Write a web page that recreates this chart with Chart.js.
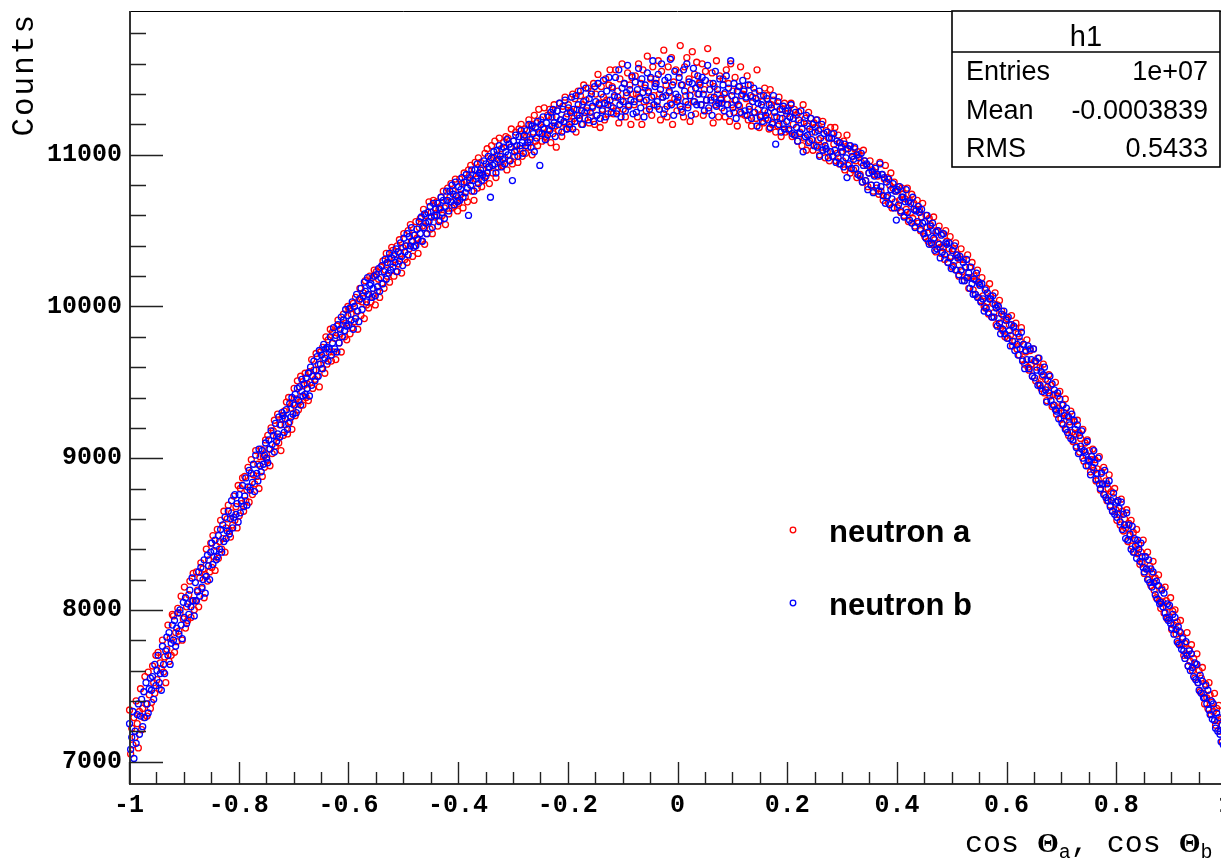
<!DOCTYPE html>
<html>
<head>
<meta charset="utf-8">
<script src="https://cdn.jsdelivr.net/npm/chart.js@4.4.1/dist/chart.umd.min.js"></script>
<style>
html,body{margin:0;padding:0;background:#fff;overflow:hidden;width:1221px;height:859px}
#c{position:absolute;left:0;top:0}
</style>
</head>
<body>
<canvas id="c" width="1240" height="859"></canvas>
<script>
// ---- histogram definition ----
const xMin = -1, xMax = 1, nBins = 1000;
const yMin = 6852, yMax = 11948;
const xTickValues = [-1, -0.8, -0.6, -0.4, -0.2, 0, 0.2, 0.4, 0.6, 0.8, 1];
const xTickLabels = ['-1', '-0.8', '-0.6', '-0.4', '-0.2', '0', '0.2', '0.4', '0.6', '0.8', '1'];
const yTickValues = [7000, 8000, 9000, 10000, 11000];
const yTickLabels = ['7000', '8000', '9000', '10000', '11000'];
const xMinorStep = 0.05, yMinorStep = 200;
const seriesNames = ['neutron a', 'neutron b'];
const statsTitle = 'h1';
const statsLabels = ['Entries', 'Mean', 'RMS'];
const statsValues = ['1e+07', '-0.0003839', '0.5433'];
const yTitle = 'Counts';

// bin contents, 1000 bins from -1 to 1 (20 bins per row)
const neutronA = [
7340,7050,7220,7110,7290,7160,7400,7250,7090,7330,7480,7210,7350,7290,7560,7380,7300,7590,7440,7350,
7390,7630,7520,7450,7700,7540,7720,7480,7650,7610,7800,7590,7690,7520,7740,7900,7660,7810,7700,7970,
7960,7720,7850,7790,8010,7860,7980,8090,7800,7940,8150,7880,8020,7930,8100,8190,7950,8060,8240,8000,
8060,8250,8130,8020,8210,8310,8140,8270,8080,8230,8400,8190,8330,8250,8440,8280,8490,8350,8260,8420,
8530,8340,8450,8590,8400,8470,8650,8380,8540,8600,8690,8520,8480,8640,8560,8750,8590,8680,8540,8820,
8620,8800,8700,8870,8650,8880,8720,8790,8940,8710,8810,8990,8760,8890,8830,9050,8880,8960,8800,9010,
9060,8880,9010,8940,9120,8990,9150,9060,8950,9200,9030,9180,9250,9080,9140,9290,9100,9220,9050,9260,
9150,9310,9220,9370,9160,9400,9240,9330,9190,9360,9460,9280,9390,9510,9320,9370,9540,9440,9350,9480,
9560,9400,9490,9380,9570,9500,9650,9460,9580,9520,9690,9540,9620,9470,9700,9590,9730,9650,9560,9800,
9620,9780,9700,9850,9640,9830,9700,9790,9650,9870,9910,9760,9820,9700,9880,9950,9800,9890,9780,10000,
9980,9820,9950,9860,10020,9900,10060,9970,9850,10040,10120,9940,10030,10090,9920,10170,10010,10080,9990,10200,
10030,10190,10080,10240,10010,10230,10100,10180,10060,10260,10150,10300,10120,10240,10350,10200,10320,10160,10280,10390,
10370,10200,10310,10230,10400,10280,10440,10350,10220,10390,10480,10310,10400,10290,10500,10380,10540,10430,10330,10470,
10400,10560,10450,10350,10520,10580,10430,10530,10640,10410,10600,10480,10560,10690,10510,10620,10480,10700,10590,10650,
10690,10530,10640,10570,10720,10600,10760,10650,10540,10700,10780,10610,10720,10810,10650,10760,10660,10840,10700,10630,
10680,10840,10740,10810,10650,10880,10720,10820,10690,10900,10830,10930,10760,10870,10700,10950,10840,10780,10980,10880,
10950,10790,10900,10830,11010,10860,11040,10920,10810,10970,11060,10880,10980,11090,10850,11000,10920,11110,10950,11040,
10930,11080,10980,11120,10900,11110,10960,11050,11170,10940,11090,10990,11150,11030,10950,11170,11040,11200,10990,11120,
11170,11010,11120,11050,11230,11080,11200,11000,11150,11260,11090,11210,11060,11300,11140,11230,11090,11180,11310,11120,
11110,11260,11170,11300,11080,11250,11140,11330,11190,11050,11290,11160,11340,11230,11120,11320,11210,11380,11170,11270,
11330,11180,11290,11220,11400,11240,11370,11150,11300,11420,11260,11390,11200,11330,11460,11240,11360,11290,11440,11210,
11250,11420,11310,11470,11200,11400,11260,11530,11340,11180,11450,11300,11380,11230,11500,11360,11270,11460,11560,11320,
11450,11270,11380,11560,11290,11420,11210,11500,11360,11600,11300,11470,11250,11390,11540,11330,11460,11200,11510,11400,
11330,11520,11400,11250,11600,11380,11470,11200,11560,11350,11440,11290,11650,11410,11320,11500,11260,11580,11390,11470,
11500,11320,11620,11400,11230,11550,11380,11690,11300,11460,11250,11580,11410,11340,11640,11200,11480,11370,11560,11290,
11360,11540,11720,11300,11460,11250,11580,11390,11640,11330,11500,11220,11430,11680,11350,11530,11270,11610,11400,11470,
11480,11330,11600,11260,11430,11550,11360,11700,11290,11470,11380,11540,11210,11450,11330,11620,11400,11250,11520,11360,
11310,11500,11400,11250,11560,11370,11470,11220,11600,11330,11420,11280,11510,11360,11190,11450,11320,11580,11270,11400,
11430,11260,11370,11520,11230,11320,11460,11190,11380,11280,11410,11240,11560,11300,11180,11390,11260,11350,11210,11440,
11240,11390,11280,11170,11430,11330,11200,11360,11250,11150,11320,11190,11380,11240,11120,11300,11200,11340,11150,11270,
11310,11160,11250,11340,11120,11200,11300,11130,11260,11090,11280,11150,11210,11060,11330,11110,11240,11030,11190,11280,
11090,11240,11150,11030,11210,11180,11060,11230,11100,11000,11170,11050,11220,11090,10980,11160,11020,11110,10960,11180,
11140,10990,11070,11180,10960,11010,11130,10940,11080,11020,10960,11090,10900,11040,11130,10930,11060,10880,11020,10990,
10900,11040,10960,10850,11020,11000,10870,10950,10820,11030,10960,10830,10930,10790,10880,10960,10800,10900,10760,10870,
10920,10780,10860,10740,10950,10760,10870,10700,10840,10930,10720,10850,10680,10800,10880,10650,10780,10820,10690,10760,
10650,10790,10700,10620,10780,10740,10600,10710,10640,10780,10560,10700,10620,10740,10580,10680,10530,10640,10700,10550,
10640,10500,10590,10680,10480,10460,10600,10520,10430,10580,10540,10410,10500,10590,10440,10360,10500,10420,10530,10390,
10350,10480,10390,10310,10500,10430,10290,10380,10460,10330,10260,10380,10300,10420,10240,10340,10200,10310,10380,10230,
10310,10170,10260,10190,10340,10120,10260,10190,10290,10110,10200,10080,10170,10240,10060,10150,10040,10190,10070,10000,
9990,10120,10030,9950,10150,10070,9930,10020,9960,10090,9880,10010,9920,10040,9860,9970,9840,9940,9800,9910,
9920,9790,9880,9810,9940,9740,9860,9770,9890,9720,9820,9680,9770,9860,9650,9750,9620,9700,9780,9600,
9580,9710,9620,9540,9720,9640,9510,9600,9660,9490,9600,9460,9540,9620,9430,9520,9380,9470,9550,9410,
9480,9340,9420,9350,9500,9290,9410,9330,9440,9260,9350,9220,9300,9390,9190,9280,9150,9240,9310,9170,
9110,9240,9160,9080,9250,9170,9040,9130,9060,9190,8980,9100,9020,9120,8950,9050,8910,8990,9060,8920,
8990,8850,8930,8860,9010,8790,8910,8830,8940,8760,8850,8720,8800,8890,8690,8780,8650,8740,8800,8660,
8590,8720,8630,8560,8730,8650,8520,8600,8540,8660,8450,8570,8490,8590,8420,8510,8380,8460,8530,8370,
8430,8300,8380,8310,8460,8240,8350,8270,8380,8200,8290,8160,8240,8320,8130,8210,8080,8160,8230,8060,
8010,8140,8050,7980,8150,8060,7940,8020,7950,8080,7870,7990,7900,8000,7840,7920,7780,7860,7930,7770,
7820,7700,7780,7710,7850,7630,7740,7660,7770,7600,7680,7550,7640,7710,7520,7600,7460,7550,7620,7450,
7380,7510,7420,7350,7520,7440,7310,7390,7330,7450,7240,7350,7270,7370,7200,7280,7130,7210,7290,7140
];
const neutronB = [
7250,7080,7160,7330,7020,7200,7120,7310,7380,7180,7300,7410,7230,7460,7290,7520,7380,7320,7480,7550,
7470,7560,7410,7640,7500,7600,7700,7520,7580,7470,7760,7640,7580,7730,7820,7700,7850,7640,7780,7900,
7800,7930,7760,7880,7980,7840,8000,7900,7810,8050,7950,8080,7910,8040,7970,8130,8020,8210,8060,7960,
8180,8060,8120,8250,8090,8280,8150,8200,8330,8110,8220,8360,8290,8200,8380,8440,8300,8390,8460,8330,
8350,8490,8400,8530,8380,8560,8450,8610,8470,8520,8650,8500,8600,8720,8540,8610,8760,8630,8700,8580,
8760,8640,8720,8820,8680,8750,8870,8690,8810,8920,8790,8900,8840,8960,8780,9020,8900,8850,9060,8950,
8910,9050,8960,9020,9100,9000,8970,9120,9060,9180,9090,9150,9040,9230,9110,9160,9270,9140,9220,9300,
9280,9170,9260,9320,9190,9230,9360,9270,9400,9290,9350,9420,9300,9460,9380,9470,9350,9520,9410,9490,
9420,9530,9460,9560,9410,9600,9480,9540,9640,9510,9580,9670,9540,9710,9620,9680,9590,9750,9660,9720,
9730,9640,9720,9800,9680,9760,9860,9720,9810,9700,9880,9760,9850,9930,9800,9910,9840,9980,9870,9940,
9880,9990,9910,10030,9850,10000,9920,10080,9970,9900,10050,10120,9980,10070,10160,10100,10030,10190,10080,10140,
10150,10060,10120,10200,10070,10210,10130,10250,10100,10190,10270,10150,10230,10310,10180,10290,10220,10350,10240,10320,
10260,10340,10290,10380,10230,10360,10300,10420,10330,10270,10450,10360,10400,10480,10340,10460,10400,10520,10430,10390,
10470,10400,10510,10440,10560,10480,10590,10430,10520,10610,10550,10480,10620,10560,10660,10590,10520,10680,10600,10640,
10600,10680,10560,10650,10720,10620,10700,10580,10660,10760,10700,10630,10760,10690,10800,10740,10670,10820,10730,10690,
10790,10700,10770,10850,10720,10820,10750,10870,10780,10600,10850,10800,10900,10830,10760,10900,10860,10940,10810,10880,
10900,10830,10870,10960,10850,10940,10880,10990,10920,10720,10980,10930,11020,10940,10880,11030,10970,11060,10990,10920,
10970,11050,10940,11020,11100,11000,11070,10960,11050,10830,11090,11020,11130,11060,10990,11120,11060,11160,11080,11010,
11130,11060,11160,11080,11200,11100,11050,11190,11140,11020,11180,11110,11220,11150,10930,11200,11140,11250,11170,11100,
11210,11130,11250,11160,11280,11190,11300,11210,11120,11250,11290,11200,11340,11230,11150,11300,11220,11360,11250,11170,
11310,11200,11280,11380,11170,11300,11220,11390,11260,11330,11240,11420,11290,11200,11350,11280,11440,11310,11230,11370,
11280,11400,11320,11220,11450,11350,11260,11470,11330,11240,11400,11290,11490,11340,11250,11420,11330,11510,11360,11280,
11440,11310,11390,11510,11270,11380,11560,11330,11250,11440,11350,11470,11290,11410,11590,11320,11430,11360,11520,11270,
11350,11480,11280,11430,11570,11370,11310,11500,11410,11250,11460,11360,11540,11420,11300,11510,11380,11620,11330,11450,
11470,11350,11530,11300,11430,11600,11380,11270,11490,11390,11320,11510,11420,11630,11330,11460,11260,11550,11400,11350,
11380,11510,11320,11460,11280,11560,11420,11350,11600,11310,11480,11390,11260,11470,11570,11350,11440,11330,11520,11400,
11460,11330,11510,11400,11290,11490,11360,11590,11310,11430,11360,11260,11470,11380,11550,11320,11430,11340,11500,11370,
11340,11460,11290,11410,11520,11330,11440,11270,11620,11390,11310,11470,11360,11240,11420,11330,11450,11280,11390,11490,
11420,11290,11380,11260,11460,11300,11390,11240,11350,11440,11280,11370,11190,11340,11420,11250,11330,11220,11390,11290,
11260,11370,11230,11330,11180,11310,11210,11390,11280,11070,11250,11350,11200,11300,11150,11240,11320,11170,11290,11220,
11290,11170,11250,11330,11140,11240,11130,11280,11180,11090,11230,11140,11290,11170,11020,11210,11120,11260,11130,11080,
11170,11240,11100,11200,11060,11150,11230,11050,11160,10990,11110,11200,11030,11140,11060,11040,11150,10980,11110,11020,
11110,10990,11140,11030,10950,11090,10980,11080,10940,11050,11020,10920,11070,10980,10850,11040,10940,11060,10910,10990,
10970,11050,10910,11000,10870,10980,10860,11010,10820,10930,10960,10830,10940,10770,10880,10920,10800,10890,10750,10860,
10910,10800,10870,10760,10940,10790,10870,10730,10850,10680,10820,10730,10840,10670,10770,10710,10810,10650,10760,10570,
10770,10670,10790,10630,10720,10720,10590,10690,10770,10620,10690,10570,10680,10550,10720,10640,10520,10630,10560,10660,
10620,10510,10640,10550,10480,10560,10450,10600,10490,10410,10530,10420,10550,10450,10370,10490,10380,10500,10410,10320,
10470,10360,10480,10340,10420,10410,10290,10420,10320,10250,10370,10270,10400,10240,10340,10320,10210,10330,10240,10170,
10290,10170,10260,10310,10190,10220,10120,10260,10150,10080,10180,10080,10220,10060,10160,10140,10030,10150,10050,9970,
10110,9990,10090,9960,10050,10050,9930,10070,9930,10010,9990,9870,10000,9890,9820,9950,9850,9970,9820,9910,
9790,9930,9840,9740,9880,9770,9870,9710,9830,9750,9680,9800,9720,9830,9640,9750,9590,9710,9650,9740,
9590,9720,9650,9540,9720,9530,9640,9580,9480,9660,9480,9570,9440,9550,9600,9450,9370,9510,9430,9540,
9380,9490,9350,9450,9320,9310,9430,9260,9390,9310,9230,9350,9280,9190,9330,9170,9270,9220,9130,9290,
9120,9250,9190,9070,9220,9030,9150,9080,9180,9000,9050,9040,8950,9110,8990,8980,8890,9010,8940,9050,
8970,8860,8900,9000,8830,8800,8900,8830,8760,8920,8740,8830,8720,8850,8680,8720,8650,8770,8630,8710,
8610,8720,8670,8580,8710,8530,8630,8560,8470,8640,8460,8560,8500,8400,8550,8380,8470,8420,8340,8460,
8400,8320,8440,8350,8280,8250,8350,8270,8200,8330,8180,8270,8150,8250,8180,8100,8190,8070,8160,8040,
8050,8130,8020,8110,7980,7950,8040,7930,8030,7910,7880,7970,7840,7950,7870,7790,7890,7770,7850,7740,
7810,7730,7680,7790,7700,7630,7730,7600,7710,7620,7560,7650,7540,7640,7520,7470,7570,7450,7530,7420,
7420,7500,7380,7470,7340,7310,7400,7280,7380,7270,7220,7320,7200,7290,7180,7130,7240,7110,7190,7080
];

const binWidth = (xMax - xMin) / nBins;
function toPoints(arr) {
  return arr.map((v, i) => ({ x: xMin + (i + 0.5) * binWidth, y: v }));
}

const MONO = "'Liberation Mono', 'DejaVu Sans Mono', monospace";
const SANS = "'Liberation Sans', Arial, sans-serif";
const SERIF = "'Liberation Serif', 'DejaVu Serif', serif";

// target plot frame (pixels)
const FRAME = { left: 129, top: 11, right: 1226, bottom: 784 };

const fixLayout = {
  id: 'fixLayout',
  afterRender(chart) {
    chart.$tries = chart.$tries || 0;
    if (chart.$tries >= 3) return;
    const a = chart.chartArea;
    const pad = chart.config.options.layout.padding;
    const dt = a.top - FRAME.top, db = FRAME.bottom - a.bottom;
    const dl = a.left - FRAME.left, dr = FRAME.right - a.right;
    if (Math.abs(dt) > 0.5 || Math.abs(db) > 0.5 || Math.abs(dl) > 0.5 || Math.abs(dr) > 0.5) {
      chart.$tries++;
      pad.top -= dt; pad.bottom -= db; pad.left -= dl; pad.right -= dr;
      chart.update();
    }
  }
};

const rootDecor = {
  id: 'rootDecor',
  afterDraw(chart) {
    const { ctx, chartArea: a, scales } = chart;
    const xs = scales.x, ys = scales.y;
    ctx.save();
    // frame (top + right)
    ctx.strokeStyle = '#000';
    ctx.lineWidth = 1;
    ctx.beginPath();
    ctx.moveTo(a.left, a.top + 0.5);
    ctx.lineTo(a.right, a.top + 0.5);
    ctx.lineTo(a.right, a.bottom);
    ctx.stroke();
    // axis lines
    ctx.strokeStyle = '#333';
    ctx.lineWidth = 2;
    ctx.beginPath();
    ctx.moveTo(a.left + 1, a.top);
    ctx.lineTo(a.left + 1, a.bottom);
    ctx.lineTo(a.right, a.bottom);
    ctx.stroke();
    // ticks
    ctx.lineWidth = 1.4;
    ctx.strokeStyle = '#222';
    ctx.beginPath();
    const nx = Math.round((xMax - xMin) / xMinorStep);
    for (let i = 0; i <= nx; i++) {
      const v = xMin + i * xMinorStep;
      const major = xTickValues.some(t => Math.abs(t - v) < 1e-9);
      const px = Math.round(xs.getPixelForValue(v)) + 0.5;
      ctx.moveTo(px, a.bottom);
      ctx.lineTo(px, a.bottom - (major ? 22 : 12));
    }
    const yStart = Math.ceil(yMin / yMinorStep) * yMinorStep;
    for (let v = yStart; v <= yMax; v += yMinorStep) {
      const major = yTickValues.includes(v);
      const py = Math.round(ys.getPixelForValue(v)) + 0.5;
      ctx.moveTo(a.left + 1, py);
      ctx.lineTo(a.left + 1 + (major ? 33 : 16), py);
    }
    ctx.stroke();

    // y title (rotated, aligned to top)
    ctx.save();
    ctx.translate(33, 13);
    ctx.rotate(-Math.PI / 2);
    ctx.fillStyle = '#000';
    ctx.font = '31px ' + MONO;
    ctx.letterSpacing = '2px';
    ctx.textAlign = 'right';
    ctx.textBaseline = 'alphabetic';
    ctx.fillText(yTitle, 0, 0);
    ctx.restore();

    // x title: cos Θa, cos Θb (right part runs past the window)
    const segs = [
      { t: 'cos ', f: '30px ' + MONO, dy: 0 },
      { t: '\u0398', f: 'bold 28px ' + SERIF, dy: 0 },
      { t: 'a', f: '20px ' + MONO, dy: 6 },
      { t: ', cos ', f: '30px ' + MONO, dy: 0 },
      { t: '\u0398', f: 'bold 28px ' + SERIF, dy: 0 },
      { t: 'b', f: '20px ' + MONO, dy: 6 }
    ];
    let tx = 965;
    const base = 852;
    ctx.fillStyle = '#000';
    ctx.textAlign = 'left';
    ctx.textBaseline = 'alphabetic';
    for (const s of segs) {
      ctx.font = s.f;
      ctx.fillText(s.t, tx, base + s.dy);
      tx += ctx.measureText(s.t).width;
    }

    // stats box
    const bx = 952, by = 11, bw = 268, bh = 156;
    ctx.fillStyle = '#fff';
    ctx.fillRect(bx, by, bw, bh);
    ctx.strokeStyle = '#000';
    ctx.lineWidth = 1.6;
    ctx.strokeRect(bx, by, bw, bh);
    ctx.beginPath();
    ctx.moveTo(bx, 52); ctx.lineTo(bx + bw, 52);
    ctx.stroke();
    ctx.fillStyle = '#000';
    ctx.font = '29px ' + SANS;
    ctx.textAlign = 'center';
    ctx.fillText(statsTitle, bx + bw / 2, 46);
    ctx.font = '27px ' + SANS;
    const rowBase = [80, 118.5, 157];
    statsLabels.forEach((lab, i) => {
      ctx.textAlign = 'left';
      ctx.fillText(lab, 966, rowBase[i]);
      ctx.textAlign = 'right';
      ctx.fillText(statsValues[i], 1208, rowBase[i]);
    });

    // legend
    const legY = [530, 603];
    chart.data.datasets.forEach((ds, i) => {
      ctx.beginPath();
      ctx.strokeStyle = ds.borderColor;
      ctx.lineWidth = 1.3;
      ctx.arc(793, legY[i], 2.8, 0, Math.PI * 2);
      ctx.stroke();
      ctx.fillStyle = '#000';
      ctx.font = 'bold 31px ' + SANS;
      ctx.textAlign = 'left';
      ctx.fillText(ds.label, 829, legY[i] + 12);
    });
    ctx.restore();
  }
};

new Chart(document.getElementById('c'), {
  type: 'scatter',
  data: {
    datasets: [
      { label: seriesNames[0], data: toPoints(neutronA), borderColor: '#ff0000', backgroundColor: 'rgba(0,0,0,0)',
        pointRadius: 3, pointBorderWidth: 1.3, pointHoverRadius: 3, order: 1, clip: false },
      { label: seriesNames[1], data: toPoints(neutronB), borderColor: '#0000ff', backgroundColor: 'rgba(0,0,0,0)',
        pointRadius: 3, pointBorderWidth: 1.3, pointHoverRadius: 3, order: 0, clip: false }
    ]
  },
  options: {
    responsive: false,
    animation: false,
    devicePixelRatio: 1,
    events: [],
    layout: { autoPadding: false, padding: { top: 11, right: 14, bottom: 0, left: 0 } },
    plugins: { legend: { display: false }, tooltip: { enabled: false }, title: { display: false } },
    scales: {
      x: {
        type: 'linear', min: xMin, max: xMax,
        afterBuildTicks: s => { s.ticks = xTickValues.map(v => ({ value: v })); },
        afterFit: s => { s.height = 75; s.paddingLeft = 0; s.paddingRight = 0; s.paddingTop = 0; s.paddingBottom = 0; },
        grid: { display: false, drawTicks: false },
        border: { display: false },
        ticks: { color: '#000', font: { family: MONO, weight: 'bold', size: 25 }, padding: 7,
                 maxRotation: 0, minRotation: 0, autoSkip: false, callback: (v, i) => xTickLabels[i] }
      },
      y: {
        type: 'linear', min: yMin, max: yMax,
        afterBuildTicks: s => { s.ticks = yTickValues.map(v => ({ value: v })); },
        afterFit: s => { s.width = 129; s.paddingLeft = 0; s.paddingRight = 0; s.paddingTop = 0; s.paddingBottom = 0; },
        grid: { display: false, drawTicks: false },
        border: { display: false },
        ticks: { color: '#000', font: { family: MONO, weight: 'bold', size: 25 }, padding: 7,
                 autoSkip: false, callback: (v, i) => yTickLabels[i] }
      }
    }
  },
  plugins: [fixLayout, rootDecor]
});
</script>
</body>
</html>
